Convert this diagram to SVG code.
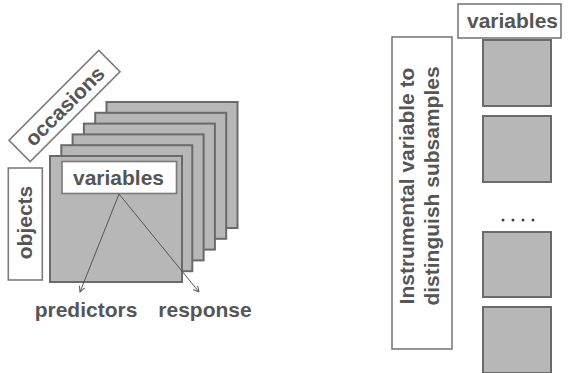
<svg xmlns="http://www.w3.org/2000/svg" width="572" height="373" viewBox="0 0 572 373">
<defs>
<style>
.sq{fill:#b7b7b7;stroke:#6a6a6a;stroke-width:2}
.box{fill:#fff;stroke:#7a7a7a;stroke-width:1.6}
.t{font-family:"Liberation Sans",Arial,sans-serif;font-weight:bold;font-size:21px;fill:#555}
.ln{stroke:#555;stroke-width:1;fill:none}
</style>
<marker id="ah" viewBox="0 0 10 10" refX="9" refY="5" markerWidth="7" markerHeight="7" orient="auto" markerUnits="userSpaceOnUse">
<path d="M1,1 L9,5 L1,9" fill="none" stroke="#555" stroke-width="1.4"/>
</marker>
</defs>
<rect width="572" height="373" fill="#fff"/>
<g id="stack">
<rect class="sq" x="106.5" y="102" width="131" height="126"/>
<rect class="sq" x="95.2" y="112.8" width="131" height="126"/>
<rect class="sq" x="83.9" y="123.6" width="131" height="126"/>
<rect class="sq" x="72.6" y="134.4" width="131" height="126"/>
<rect class="sq" x="61.3" y="145.2" width="131" height="126"/>
<rect class="sq" x="50" y="156" width="132" height="126"/>
</g>
<g id="occasions">
<rect class="box" x="1" y="91" width="127" height="30" transform="rotate(-45 64.5 106)"/>
<text class="t" x="64.5" y="113.5" text-anchor="middle" transform="rotate(-45 64.5 106)">occasions</text>
</g>
<g id="objects">
<rect class="box" x="8.3" y="168" width="34" height="112"/>
<text class="t" x="0" y="0" text-anchor="middle" transform="translate(32 222.5) rotate(-90)">objects</text>
</g>
<g id="variables-left">
<rect class="box" x="62" y="161.5" width="114.5" height="32"/>
<text class="t" x="118.5" y="185" text-anchor="middle">variables</text>
</g>
<g id="connectors">
<line class="ln" x1="119" y1="194" x2="80" y2="292" marker-end="url(#ah)"/>
<line class="ln" x1="119" y1="194" x2="199" y2="292" marker-end="url(#ah)"/>
</g>
<g id="predictors"><text class="t" x="86" y="317" text-anchor="middle">predictors</text></g>
<g id="response"><text class="t" x="205" y="317" text-anchor="middle">response</text></g>
<g id="instrumental">
<rect class="box" x="392" y="37" width="60" height="312"/>
<text class="t" transform="translate(414 186) rotate(-90)" text-anchor="middle">Instrumental variable to</text>
<text class="t" transform="translate(439 186) rotate(-90)" text-anchor="middle">distinguish subsamples</text>
</g>
<g id="variables-right">
<rect class="box" x="458" y="4" width="103" height="34"/>
<text class="t" x="512.5" y="28" text-anchor="middle">variables</text>
</g>
<g id="subsamples">
<rect class="sq" x="483" y="40" width="68" height="66"/>
<rect class="sq" x="483" y="116" width="68" height="66"/>
<rect class="sq" x="483" y="232" width="68" height="65"/>
<rect class="sq" x="483" y="307" width="68" height="66"/>
</g>
<g id="dots" fill="#444">
<circle cx="503" cy="220" r="1.5"/>
<circle cx="513" cy="220" r="1.5"/>
<circle cx="523" cy="220" r="1.5"/>
<circle cx="533" cy="220" r="1.5"/>
</g>
</svg>
